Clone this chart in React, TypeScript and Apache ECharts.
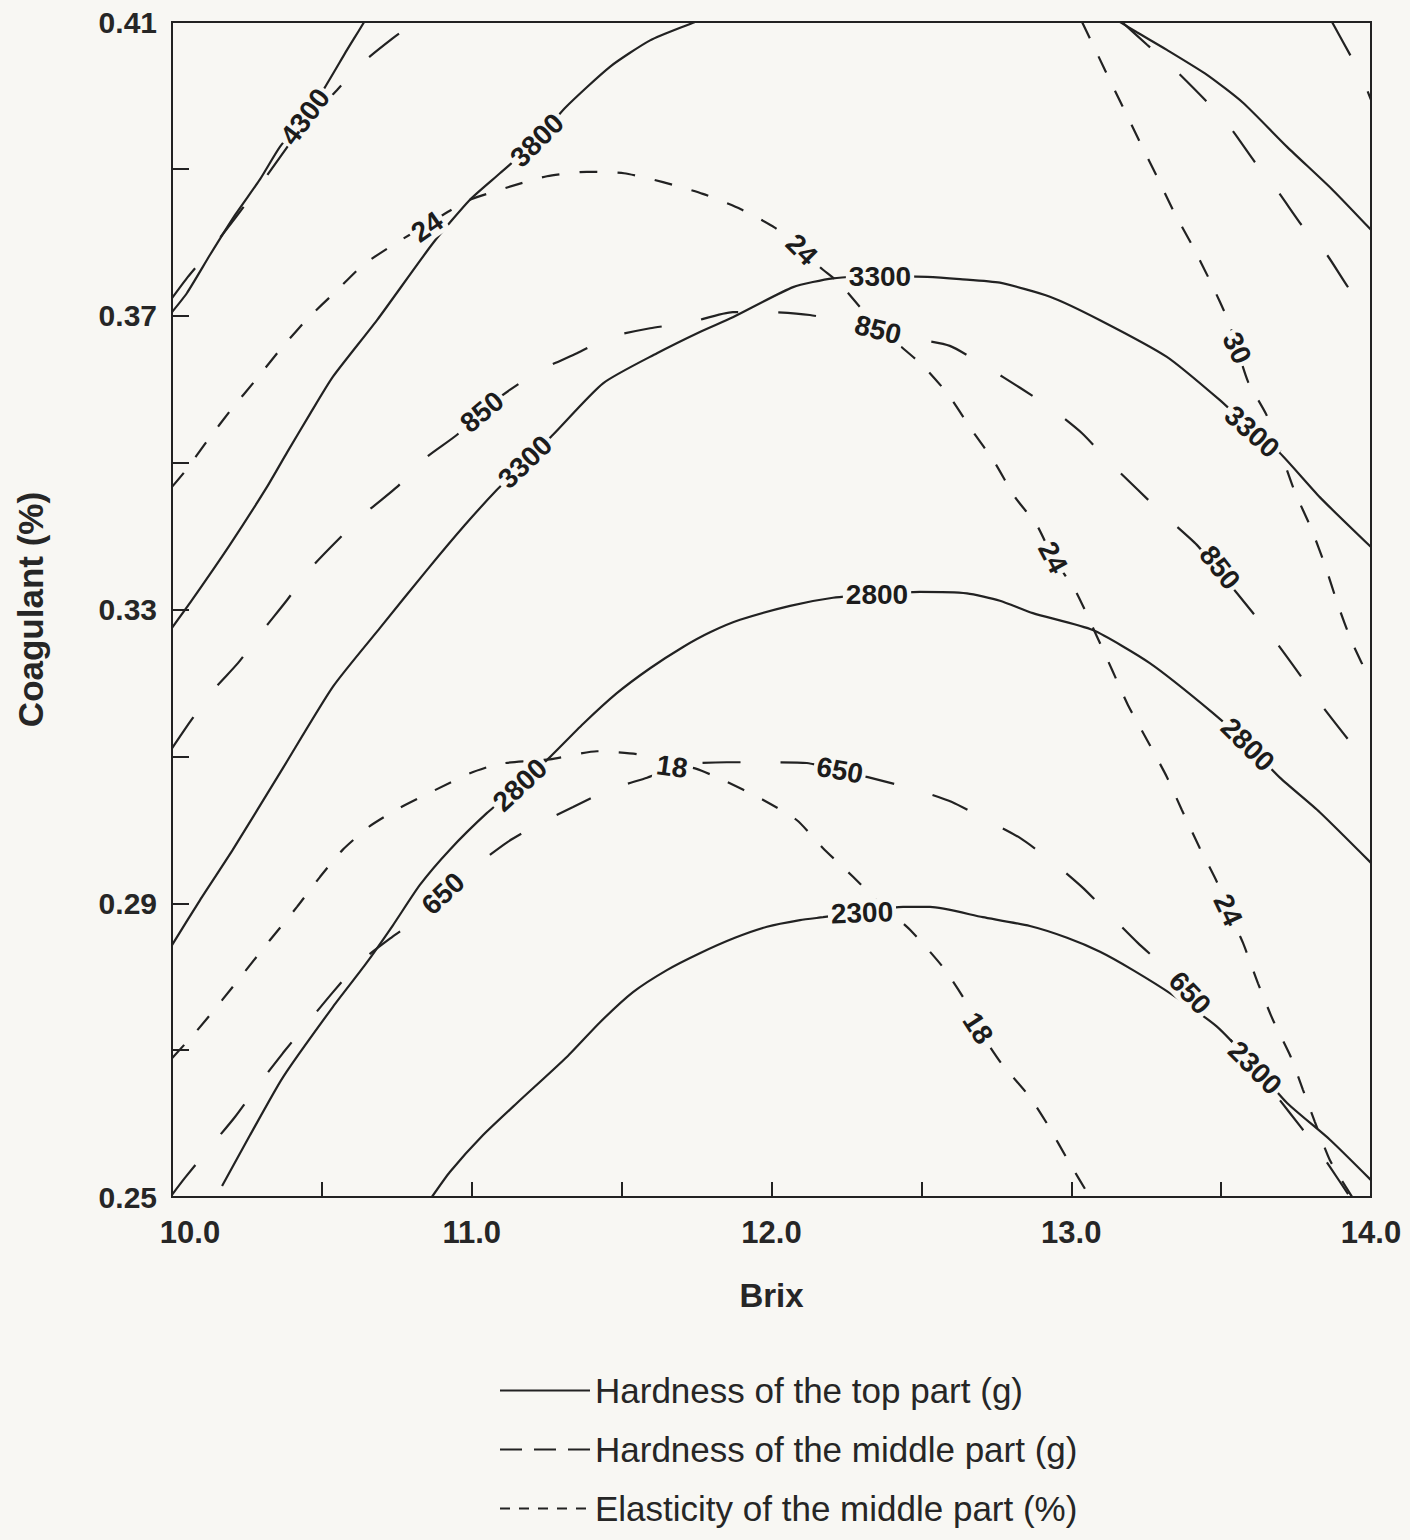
import React, { useEffect, useRef } from "react";
import * as echarts from "echarts";

// ---- Legend / series groups ----
const TOP = "Hardness of the top part (g)";
const MID = "Hardness of the middle part (g)";
const ELA = "Elasticity of the middle part (%)";

// ---- Axis ticks ----
const xTicks = [10.0, 11.0, 12.0, 13.0, 14.0];
const yTicks = [0.25, 0.29, 0.33, 0.37, 0.41];

// ---- Hardness of the top part (g), solid contours: [Brix, Coagulant] ----
const top4300 = [[10.0,0.3705],[10.05,0.3731],[10.127,0.3783],[10.21,0.3837],[10.294,0.3886],[10.36,0.393],[10.444,0.3971],[10.51,0.4011],[10.584,0.4062],[10.641,0.41],[10.66,0.4115]];
const top3800Left = [[10.0,0.3275],[10.067,0.3313],[10.193,0.3388],[10.317,0.3467],[10.384,0.3514],[10.46,0.3566],[10.537,0.3617],[10.684,0.3694],[10.871,0.3799],[10.994,0.3858],[11.094,0.3894],[11.218,0.3939],[11.311,0.3983],[11.461,0.4039],[11.595,0.4075],[11.738,0.4099],[11.76,0.4103]];
const top3800Right = [[13.163,0.41],[13.219,0.4086],[13.319,0.4062],[13.453,0.4028],[13.573,0.399],[13.72,0.393],[13.873,0.3871],[14.0,0.3817]];
const top3300 = [[10.0,0.2843],[10.093,0.2904],[10.203,0.2973],[10.37,0.3084],[10.537,0.3195],[10.694,0.3275],[10.851,0.3354],[10.977,0.3415],[11.084,0.3463],[11.178,0.3501],[11.271,0.3538],[11.438,0.3608],[11.618,0.3649],[11.761,0.3678],[11.871,0.3698],[12.072,0.3739],[12.205,0.3751],[12.362,0.3754],[12.519,0.3753],[12.629,0.375],[12.762,0.3745],[12.929,0.3726],[13.096,0.3694],[13.319,0.3644],[13.496,0.3585],[13.596,0.3547],[13.696,0.3513],[13.829,0.3453],[14.0,0.3385]];
const top2800 = [[10.167,0.2515],[10.26,0.2584],[10.37,0.2663],[10.537,0.2759],[10.644,0.2816],[10.737,0.287],[10.827,0.2925],[10.927,0.2973],[11.051,0.3023],[11.161,0.3061],[11.261,0.3099],[11.371,0.3144],[11.484,0.3186],[11.595,0.322],[11.705,0.3249],[11.795,0.3269],[11.895,0.3286],[12.062,0.3305],[12.205,0.3316],[12.352,0.3321],[12.495,0.3324],[12.652,0.3322],[12.762,0.3312],[12.872,0.3295],[13.072,0.3272],[13.262,0.3227],[13.473,0.3159],[13.589,0.3116],[13.696,0.3071],[13.829,0.3024],[14.0,0.2955]];
const top2300 = [[10.867,0.25],[10.927,0.2534],[11.037,0.2584],[11.151,0.2628],[11.318,0.2691],[11.428,0.2738],[11.538,0.2779],[11.651,0.2809],[11.761,0.2832],[11.878,0.2853],[11.985,0.2868],[12.095,0.2877],[12.172,0.2881],[12.302,0.2888],[12.439,0.2895],[12.529,0.2895],[12.705,0.2881],[12.862,0.2869],[12.986,0.2853],[13.096,0.2834],[13.206,0.2809],[13.339,0.2775],[13.486,0.2732],[13.613,0.2678],[13.72,0.2628],[13.863,0.2578],[14.0,0.2523]];

// ---- Hardness of the middle part (g), long-dash contours ----
const midUpperLeft = [[10.0,0.3724],[10.053,0.3753],[10.137,0.3794],[10.294,0.3878],[10.427,0.3953],[10.55,0.4007],[10.634,0.4044],[10.737,0.4078],[10.811,0.41],[10.84,0.411]];
const midUpperRight = [[13.169,0.41],[13.253,0.4069],[13.346,0.4035],[13.446,0.3994],[13.529,0.3957],[13.613,0.3909],[13.69,0.3869],[13.773,0.3821],[13.853,0.3783],[13.93,0.3735],[14.0,0.3702]];
const midCorner = [[13.87,0.41],[13.94,0.4048],[13.97,0.4024],[14.0,0.3994]];
const mid850 = [[10.0,0.3111],[10.06,0.3147],[10.137,0.319],[10.22,0.3227],[10.304,0.3272],[10.384,0.3313],[10.467,0.3358],[10.554,0.3395],[10.65,0.3433],[10.751,0.3467],[10.851,0.3508],[10.951,0.3538],[11.027,0.3569],[11.127,0.3599],[11.228,0.3626],[11.351,0.3649],[11.461,0.3671],[11.595,0.3683],[11.728,0.3691],[11.871,0.3705],[11.995,0.3705],[12.128,0.3701],[12.252,0.3691],[12.355,0.3681],[12.462,0.367],[12.595,0.3659],[12.719,0.363],[12.829,0.3602],[12.939,0.3572],[13.036,0.354],[13.129,0.35],[13.222,0.3463],[13.319,0.3425],[13.419,0.3388],[13.503,0.3347],[13.603,0.3297],[13.686,0.3254],[13.763,0.3211],[13.84,0.3167],[13.92,0.3125],[14.0,0.3084]];
const mid650 = [[10.0,0.2503],[10.043,0.2526],[10.127,0.2568],[10.21,0.2609],[10.287,0.2652],[10.37,0.2696],[10.454,0.2738],[10.537,0.2779],[10.627,0.282],[10.734,0.2854],[10.827,0.2881],[10.904,0.2913],[10.994,0.2945],[11.118,0.2983],[11.228,0.3009],[11.338,0.3031],[11.454,0.3054],[11.585,0.3071],[11.655,0.3081],[11.728,0.309],[11.851,0.3092],[11.983,0.3092],[12.118,0.3091],[12.218,0.3081],[12.328,0.3071],[12.495,0.3053],[12.602,0.3038],[12.719,0.3013],[12.829,0.2989],[12.939,0.2956],[13.039,0.2921],[13.129,0.2884],[13.222,0.2846],[13.322,0.2809],[13.396,0.2778],[13.479,0.2738],[13.596,0.2684],[13.73,0.2614],[13.806,0.2574],[13.863,0.2541],[13.93,0.25]];

// ---- Elasticity of the middle part (%), short-dash contours ----
const ela30 = [[13.036,0.41],[13.062,0.4078],[13.112,0.4035],[13.169,0.3987],[13.226,0.3939],[13.283,0.3892],[13.343,0.3841],[13.406,0.3794],[13.466,0.3745],[13.523,0.3694],[13.553,0.3656],[13.59,0.361],[13.65,0.3566],[13.696,0.3517],[13.746,0.346],[13.8,0.3411],[13.846,0.3361],[13.89,0.3306],[13.936,0.3256],[14.0,0.3201]];
const ela24 = [[10.0,0.3467],[10.047,0.349],[10.12,0.3531],[10.197,0.3572],[10.28,0.3613],[10.367,0.3657],[10.457,0.3698],[10.544,0.3732],[10.637,0.3769],[10.747,0.3799],[10.851,0.3824],[10.927,0.3843],[10.994,0.3858],[11.121,0.3875],[11.251,0.389],[11.384,0.3896],[11.508,0.3894],[11.638,0.3882],[11.771,0.3866],[11.898,0.3845],[12.011,0.382],[12.101,0.379],[12.162,0.3766],[12.225,0.3745],[12.308,0.3706],[12.395,0.3671],[12.505,0.3632],[12.589,0.3593],[12.669,0.3544],[12.745,0.35],[12.812,0.3453],[12.885,0.3415],[12.939,0.3371],[13.016,0.3324],[13.086,0.3263],[13.136,0.3218],[13.189,0.317],[13.256,0.312],[13.319,0.3072],[13.369,0.3027],[13.429,0.2975],[13.486,0.2929],[13.523,0.2891],[13.573,0.2846],[13.623,0.2791],[13.673,0.2741],[13.73,0.2693],[13.773,0.2646],[13.813,0.2602],[13.863,0.255],[13.937,0.25]];
const ela18 = [[10.0,0.2689],[10.08,0.2725],[10.167,0.2768],[10.247,0.2809],[10.327,0.285],[10.417,0.2895],[10.494,0.2936],[10.57,0.2973],[10.66,0.3005],[10.76,0.303],[10.877,0.3054],[10.994,0.3077],[11.094,0.309],[11.261,0.3096],[11.418,0.3107],[11.551,0.3103],[11.668,0.309],[11.75,0.3083],[11.837,0.3068],[11.971,0.3041],[12.085,0.3013],[12.172,0.2975],[12.272,0.2936],[12.362,0.29],[12.462,0.2864],[12.572,0.2813],[12.645,0.2768],[12.689,0.273],[12.765,0.2683],[12.862,0.2636],[12.922,0.2598],[12.989,0.255],[13.062,0.25]];

// ---- Contour value labels: text, Brix, Coagulant, angle ----
const contourLabels = [
  { text: "4300", x: 10.444, y: 0.3971, angle: 53 },
  { text: "3800", x: 11.218, y: 0.3939, angle: 45 },
  { text: "3300", x: 11.178, y: 0.3501, angle: 44 },
  { text: "3300", x: 12.362, y: 0.3753, angle: 0 },
  { text: "3300", x: 13.603, y: 0.3542, angle: -42 },
  { text: "2800", x: 11.161, y: 0.3061, angle: 43 },
  { text: "2800", x: 12.352, y: 0.332, angle: 0 },
  { text: "2800", x: 13.589, y: 0.3116, angle: -45 },
  { text: "2300", x: 12.302, y: 0.2887, angle: 2 },
  { text: "2300", x: 13.613, y: 0.2676, angle: -45 },
  { text: "850", x: 11.034, y: 0.3569, angle: 40 },
  { text: "850", x: 12.355, y: 0.3681, angle: -14 },
  { text: "850", x: 13.496, y: 0.3357, angle: -52 },
  { text: "650", x: 10.904, y: 0.2913, angle: 43 },
  { text: "650", x: 12.228, y: 0.3081, angle: -10 },
  { text: "650", x: 13.396, y: 0.2778, angle: -47 },
  { text: "24", x: 10.851, y: 0.3821, angle: 35 },
  { text: "24", x: 12.101, y: 0.379, angle: -45 },
  { text: "24", x: 12.939, y: 0.3371, angle: -62 },
  { text: "24", x: 13.523, y: 0.2891, angle: -65 },
  { text: "30", x: 13.553, y: 0.3656, angle: -65 },
  { text: "18", x: 11.668, y: 0.3086, angle: -8 },
  { text: "18", x: 12.689, y: 0.273, angle: -57 },
];

const contours = [
  { group: TOP, points: top4300 },
  { group: TOP, points: top3800Left },
  { group: TOP, points: top3800Right },
  { group: TOP, points: top3300 },
  { group: TOP, points: top2800 },
  { group: TOP, points: top2300 },
  { group: MID, points: midUpperLeft },
  { group: MID, points: midUpperRight },
  { group: MID, points: midCorner },
  { group: MID, points: mid850 },
  { group: MID, points: mid650 },
  { group: ELA, points: ela30 },
  { group: ELA, points: ela24 },
  { group: ELA, points: ela18 },
];

export default function App() {
  const ref = useRef<HTMLDivElement>(null);

  useEffect(() => {
    if (!ref.current) return;
    const chart = echarts.init(ref.current, null, { renderer: "svg" });
    const INK = "#222222";
    const TEXT = "#262626";
    const BG = "#f8f7f3";
    const FONT = "'Liberation Sans', Arial, sans-serif";
    const dash: Record<string, any> = {
      [TOP]: "solid",
      [MID]: [38, 40],
      [ELA]: [18, 20],
    };

    const series: any[] = contours.map((c) => ({
      type: "line",
      name: c.group,
      data: c.points,
      symbol: "none",
      showSymbol: false,
      smooth: 0.2,
      clip: true,
      silent: true,
      z: 2,
      itemStyle: { color: INK },
      lineStyle: { color: INK, width: 2.2, type: dash[c.group] },
    }));

    series.push({
      type: "scatter",
      name: "contour labels",
      symbolSize: 1,
      silent: true,
      z: 6,
      itemStyle: { color: "rgba(0,0,0,0)", opacity: 1 },
      data: contourLabels.map((l) => ({
        name: l.text,
        value: [l.x, l.y],
        label: { rotate: l.angle },
      })),
      label: {
        show: true,
        position: "inside",
        formatter: "{b}",
        align: "center",
        verticalAlign: "middle",
        fontSize: 28,
        fontWeight: "bold",
        fontFamily: FONT,
        color: "#1c1c1c",
        opacity: 1,
        backgroundColor: BG,
        padding: [0, 3],
      },
    });

    chart.setOption({
      animation: false,
      backgroundColor: BG,
      grid: {
        left: 172,
        right: 39,
        top: 22,
        bottom: 343,
        show: true,
        borderColor: INK,
        borderWidth: 2,
        containLabel: false,
        outerBoundsMode: "none",
      },
      legend: {
        orient: "vertical",
        left: 494,
        top: 1368,
        itemWidth: 90,
        itemHeight: 16,
        itemGap: 24,
        itemStyle: { opacity: 0 },
        textStyle: { fontSize: 35, color: TEXT, fontFamily: FONT },
        data: [
          { name: TOP, lineStyle: { type: "solid", opacity: 1 } },
          { name: MID, lineStyle: { type: [22, 12], opacity: 1 } },
          { name: ELA, lineStyle: { type: [10, 9], opacity: 1 } },
        ],
      },
      xAxis: {
        type: "value",
        min: 10,
        max: 14,
        interval: 0.5,
        name: "Brix",
        nameLocation: "middle",
        nameGap: 82,
        nameTextStyle: { fontSize: 33, fontWeight: "bold", color: TEXT, fontFamily: FONT },
        axisLine: { show: true, lineStyle: { color: INK, width: 2 } },
        axisTick: { show: true, inside: true, length: 15, lineStyle: { color: INK, width: 2 } },
        splitLine: { show: false },
        axisLabel: {
          margin: 20,
          fontSize: 31,
          fontWeight: "bold",
          color: TEXT,
          fontFamily: FONT,
          formatter: (v: number) => {
            if (!xTicks.some((t) => Math.abs(t - v) < 1e-6)) return "";
            return Math.abs(v - 10) < 1e-6 ? "{first|" + v.toFixed(1) + "}" : v.toFixed(1);
          },
          rich: {
            first: {
              fontSize: 31,
              fontWeight: "bold",
              color: TEXT,
              fontFamily: FONT,
              padding: [0, 0, 0, 36],
            },
          },
        },
      },
      yAxis: {
        type: "value",
        min: 0.25,
        max: 0.41,
        interval: 0.02,
        name: "Coagulant (%)",
        nameLocation: "middle",
        nameGap: 124,
        nameRotate: 90,
        nameTextStyle: { fontSize: 35, fontWeight: "bold", color: TEXT, fontFamily: FONT },
        axisLine: { show: true, lineStyle: { color: INK, width: 2 } },
        axisTick: { show: true, inside: true, length: 17, lineStyle: { color: INK, width: 2 } },
        splitLine: { show: false },
        axisLabel: {
          margin: 15,
          fontSize: 30,
          fontWeight: "bold",
          color: TEXT,
          fontFamily: FONT,
          formatter: (v: number) =>
            yTicks.some((t) => Math.abs(t - v) < 1e-6) ? v.toFixed(2) : "",
        },
      },
      series,
    });

    return () => chart.dispose();
  }, []);

  return (
    <div
      ref={ref}
      style={{ position: "absolute", left: 0, top: 0, width: 1410, height: 1540 }}
    />
  );
}
